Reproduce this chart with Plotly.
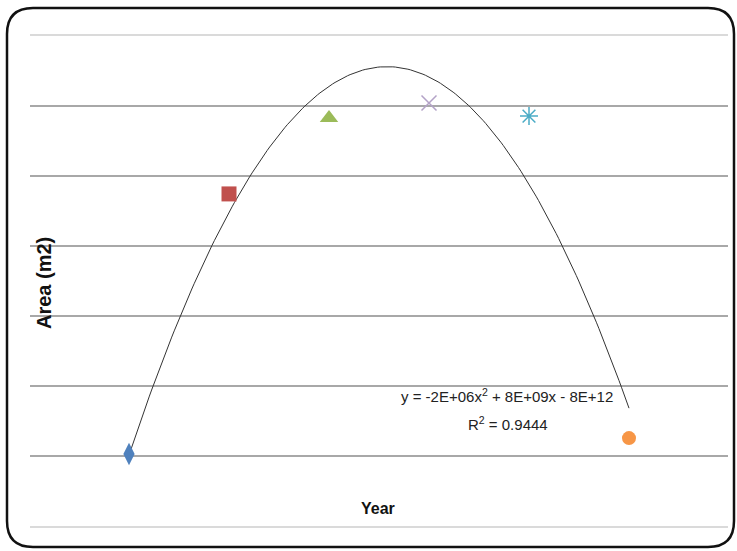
import numpy as np
import plotly.graph_objects as go

W, H = 737, 551

# Observed area per year and the marker used for each year
years = [2000, 2001, 2002, 2003, 2004, 2005]
area_m2 = [2.57e6, 1.186e7, 1.457e7, 1.511e7, 1.464e7, 3.14e6]
marker_symbols = ["diamond-tall", "square", "triangle-up", "x-thin-open", "asterisk-open", "circle"]
marker_colors = ["#4f81bd", "#c0504d", "#9bbb59", "#b3a2c7", "#4bacc6", "#f79646"]
marker_sizes = [16, 15, 16, 15, 15, 14]

# Horizontal gridline values (no tick labels are shown)
grid_vals = [2.5e6, 5e6, 7.5e6, 1e7, 1.25e7, 1.5e7]

equation_text = "y = -2E+06x<sup>2</sup> + 8E+09x - 8E+12"
r2_text = "R<sup>2</sup> = 0.9444"


def px(x):
    return x / W


def py(y):
    return 1 - y / H


fig = go.Figure()

# Second-order polynomial trendline fitted to the observations
yr = np.array(years, dtype=float)
coef = np.polyfit(yr - yr[0], np.array(area_m2), 2)
xs = np.linspace(yr[0], yr[-1], 200)
fig.add_trace(go.Scatter(
    x=xs, y=np.polyval(coef, xs - yr[0]), mode="lines",
    line=dict(color="#333333", width=1), hoverinfo="skip", showlegend=False,
))

for x, y, s, c, sz in zip(years, area_m2, marker_symbols, marker_colors, marker_sizes):
    open_sym = s.endswith("open")
    fig.add_trace(go.Scatter(
        x=[x], y=[y], mode="markers", showlegend=False,
        marker=dict(symbol=s, size=sz, color=c,
                    line=dict(color=c, width=1.5 if open_sym else 0)),
    ))

# Rounded frame around the whole chart
x0, y0, x1, y1, r = 7, 8, 734, 547, 26
rx, ry = r / W, r / H
X0, X1, Y0, Y1 = px(x0), px(x1), py(y0), py(y1)
path = (f"M {X0 + rx},{Y0} L {X1 - rx},{Y0} Q {X1},{Y0} {X1},{Y0 - ry} "
        f"L {X1},{Y1 + ry} Q {X1},{Y1} {X1 - rx},{Y1} "
        f"L {X0 + rx},{Y1} Q {X0},{Y1} {X0},{Y1 + ry} "
        f"L {X0},{Y0 - ry} Q {X0},{Y0} {X0 + rx},{Y0} Z")
fig.add_shape(type="path", path=path, xref="paper", yref="paper",
              line=dict(color="#111111", width=2.5), layer="above")

sans = "Liberation Sans, Arial, sans-serif"


def label(x, y, text, size, angle=0, color="#222222"):
    fig.add_annotation(x=px(x), y=py(y), xref="paper", yref="paper",
                       xanchor="center", yanchor="middle",
                       text=text, showarrow=False, textangle=angle,
                       font=dict(family=sans, size=size, color=color))


label(507, 395, equation_text, 15)
label(508, 423, r2_text, 15)
label(44, 283, "<b>Area (m2)</b>", 20, angle=-90, color="#111111")
label(378, 508, "<b>Year</b>", 16, color="#111111")

fig.update_layout(
    width=W, height=H,
    margin=dict(l=0, r=0, t=0, b=0),
    paper_bgcolor="white", plot_bgcolor="white",
    xaxis=dict(range=[1999.01, 2005.99], domain=[px(30), px(728)],
               showgrid=False, zeroline=False, showticklabels=False, ticks="",
               showline=True, mirror=True, linecolor="#dadada", linewidth=2),
    yaxis=dict(range=[0, 1.75e7], domain=[py(526), py(36)],
               tickvals=grid_vals, showgrid=True, gridcolor="#a8a8a8", gridwidth=1.5,
               zeroline=False, showticklabels=False, ticks="", showline=False),
)

fig.write_html("out.html")
